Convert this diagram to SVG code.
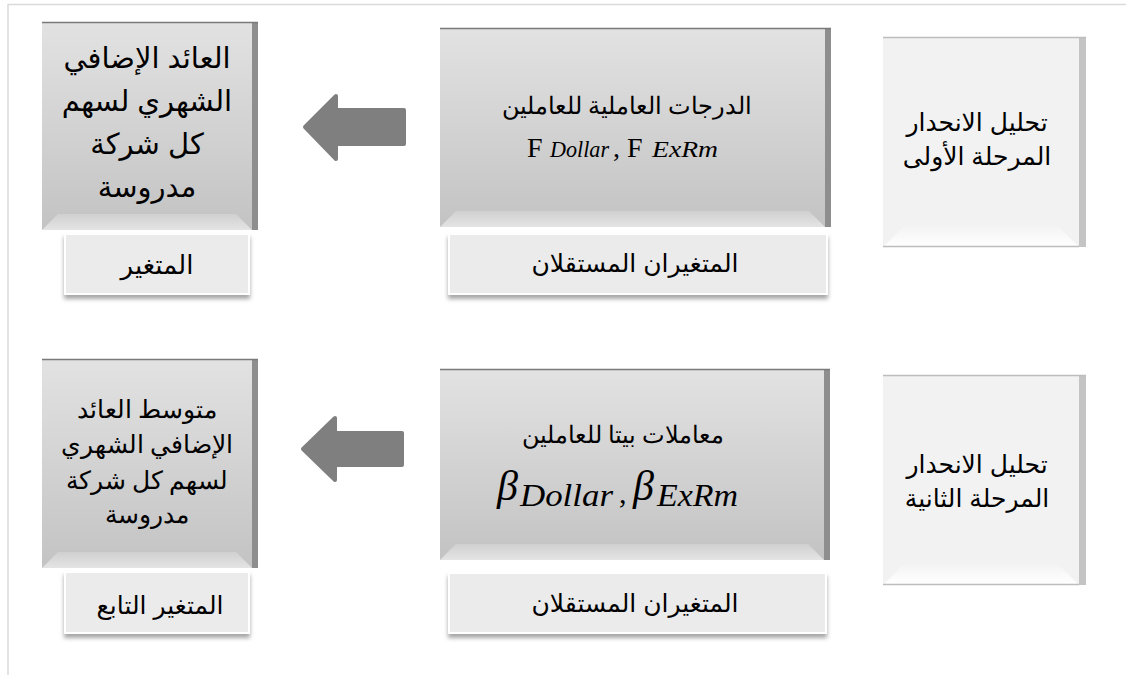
<svg xmlns="http://www.w3.org/2000/svg" width="1126" height="675" viewBox="0 0 1126 675">
<defs>
<linearGradient id="gDark" x1="0" y1="0" x2="0" y2="1">
<stop offset="0" stop-color="#e2e2e2"/>
<stop offset="1" stop-color="#c3c3c3"/>
</linearGradient>
<linearGradient id="gBevel" x1="0" y1="0" x2="0" y2="1">
<stop offset="0" stop-color="#d0d0d0"/>
<stop offset="1" stop-color="#e4e4e4"/>
</linearGradient>
<linearGradient id="gBevelL" x1="0" y1="0" x2="0" y2="1">
<stop offset="0" stop-color="#f4f4f4"/>
<stop offset="1" stop-color="#ffffff"/>
</linearGradient>
<filter id="shadow" x="-10%" y="-20%" width="120%" height="150%">
<feDropShadow dx="0" dy="4" stdDeviation="2" flood-color="#000" flood-opacity="0.35"/>
</filter>
</defs>
<style>
.frame{fill:none;stroke:#dadada;stroke-width:1.5}
.dk{fill:url(#gDark)}
.dkside{fill:#8e8e8e}
.dktop{stroke:#7a7a7a;stroke-width:1.5}
.dkbev{fill:url(#gBevel)}
.lt{fill:#f2f2f2}
.ltside{fill:#c4c4c4}
.lttop{stroke:#bdbdbd;stroke-width:1.5}
.ltbev{fill:url(#gBevelL)}
.lbl{fill:#ebebeb;stroke:#ffffff;stroke-width:2;filter:url(#shadow)}
.arrow{fill:#7f7f7f;stroke:#7f7f7f;stroke-width:4;stroke-linejoin:round}
.ar{font-family:"Liberation Sans","DejaVu Sans",sans-serif;fill:#000;text-anchor:middle}
.sr{font-family:"Liberation Serif","DejaVu Serif",serif;fill:#000;text-anchor:middle}
.up{font-family:"Liberation Serif","DejaVu Serif",serif;fill:#000}
.mi{font-family:"Liberation Serif","DejaVu Serif",serif;font-style:italic;fill:#000}
</style>
<rect x="8" y="4.5" width="1130" height="680" class="frame"/>

<g id="dep1">
<rect x="42" y="22" width="210" height="208" class="dk"/>
<rect x="252" y="22" width="6" height="208" class="dkside"/>
<polygon points="42,230 58,214 236,214 252,230" class="dkbev"/>
<line x1="42" y1="22.5" x2="258" y2="22.5" class="dktop"/>
<text class="ar" font-size="29" x="147"><tspan x="147" y="68">العائد الإضافي</tspan><tspan x="147" y="111">الشهري لسهم</tspan><tspan x="147" y="154">كل شركة</tspan><tspan x="147" y="197">مدروسة</tspan></text>
</g>
<g id="lbl1">
<rect x="65" y="234" width="184" height="60" class="lbl"/>
<text class="ar" font-size="26" x="157" y="274">المتغير</text>
</g>

<g id="ind1">
<rect x="440" y="28" width="385" height="199" class="dk"/>
<rect x="825" y="28" width="6" height="199" class="dkside"/>
<polygon points="440,227 456,211 809,211 825,227" class="dkbev"/>
<line x1="440" y1="28.5" x2="831" y2="28.5" class="dktop"/>
<text class="sr" font-size="24" x="627" y="114">الدرجات العاملية للعاملين</text>
<text class="up" font-size="28" x="527" y="157">F</text>
<text class="mi" font-size="24" x="550" y="157" textLength="59" lengthAdjust="spacingAndGlyphs">Dollar</text>
<text class="up" font-size="28" x="613" y="157">,</text>
<text class="up" font-size="28" x="627" y="157">F</text>
<text class="mi" font-size="24" x="652" y="157" textLength="66" lengthAdjust="spacingAndGlyphs">ExRm</text>
</g>
<g id="lbl2">
<rect x="449" y="234" width="378" height="60" class="lbl"/>
<text class="ar" font-size="25" x="635" y="272">المتغيران المستقلان</text>
</g>

<g id="stage1">
<rect x="883" y="37" width="196" height="210" class="lt"/>
<rect x="1079" y="37" width="7" height="210" class="ltside"/>
<polygon points="883,247 903,227 1059,227 1079,247" class="ltbev"/>
<line x1="883" y1="37.5" x2="1086" y2="37.5" class="lttop"/>
<line x1="883" y1="246.5" x2="1079" y2="246.5" class="lttop"/>
<text class="ar" font-size="25" x="977"><tspan x="977" y="131">تحليل الانحدار</tspan><tspan x="977" y="165">المرحلة الأولى</tspan></text>
</g>

<g id="dep2">
<rect x="42" y="359" width="210" height="209" class="dk"/>
<rect x="252" y="359" width="6" height="209" class="dkside"/>
<polygon points="42,568 58,552 236,552 252,568" class="dkbev"/>
<line x1="42" y1="359.5" x2="258" y2="359.5" class="dktop"/>
<text class="sr" font-size="25" x="147"><tspan x="147" y="418">متوسط العائد</tspan><tspan x="147" y="453">الإضافي الشهري</tspan><tspan x="147" y="489">لسهم كل شركة</tspan><tspan x="147" y="523">مدروسة</tspan></text>
</g>
<g id="lbl3">
<rect x="65" y="572" width="184" height="61" class="lbl"/>
<text class="ar" font-size="25" x="160" y="614">المتغير  التابع</text>
</g>

<g id="ind2">
<rect x="440" y="369" width="384" height="191" class="dk"/>
<rect x="824" y="369" width="6" height="191" class="dkside"/>
<polygon points="440,560 456,544 808,544 824,560" class="dkbev"/>
<line x1="440" y1="369.5" x2="830" y2="369.5" class="dktop"/>
<text class="sr" font-size="24" x="623" y="443">معاملات بيتا للعاملين</text>
<text class="mi" font-size="42" x="497" y="500">β</text>
<text class="mi" font-size="32" x="520" y="506" textLength="93" lengthAdjust="spacingAndGlyphs">Dollar</text>
<text class="up" font-size="30" x="619" y="503">,</text>
<text class="mi" font-size="42" x="633" y="500">β</text>
<text class="mi" font-size="32" x="657" y="506" textLength="81" lengthAdjust="spacingAndGlyphs">ExRm</text>
</g>
<g id="lbl4">
<rect x="449" y="573" width="377" height="60" class="lbl"/>
<text class="ar" font-size="25" x="635" y="612">المتغيران المستقلان</text>
</g>

<g id="stage2">
<rect x="883" y="375" width="196" height="210" class="lt"/>
<rect x="1079" y="375" width="7" height="210" class="ltside"/>
<polygon points="883,585 903,565 1059,565 1079,585" class="ltbev"/>
<line x1="883" y1="375.5" x2="1086" y2="375.5" class="lttop"/>
<line x1="883" y1="584.5" x2="1079" y2="584.5" class="lttop"/>
<text class="ar" font-size="25" x="977"><tspan x="977" y="473">تحليل الانحدار</tspan><tspan x="977" y="507">المرحلة الثانية</tspan></text>
</g>

<g id="connectors">
<polygon class="arrow" points="305,127 336,96 336,110 404,110 404,144 336,144 336,159"/>
<polygon class="arrow" points="303,449 335,418 335,433 402,433 402,465 335,465 335,480"/>
</g>
</svg>
